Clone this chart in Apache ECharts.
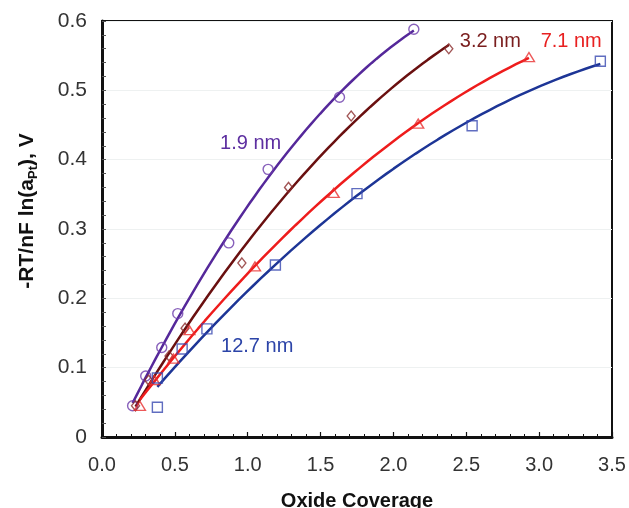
<!DOCTYPE html>
<html>
<head>
<meta charset="utf-8">
<script src="https://cdn.jsdelivr.net/npm/echarts@6/dist/echarts.min.js"></script>
<style>
  html, body { margin: 0; padding: 0; background: #ffffff; }
  #chart { width: 629px; height: 508px; }
</style>
</head>
<body>
<div id="chart"></div>
<script>
// Pt oxide film thickness of each sample
const thicknessLabels = ['1.9 nm', '3.2 nm', '7.1 nm', '12.7 nm'];

// Oxide coverage (x) and -RT/nF ln(a_Pt) in V (y) for each thickness
const coverage19 = [0.21, 0.30, 0.41, 0.52, 0.87, 1.14, 1.63, 2.14];
const potential19 = [0.045, 0.088, 0.129, 0.178, 0.280, 0.386, 0.490, 0.588];

const coverage32 = [0.23, 0.32, 0.46, 0.57, 0.96, 1.28, 1.71, 2.38];
const potential32 = [0.045, 0.082, 0.117, 0.157, 0.251, 0.360, 0.463, 0.560];

const coverage71 = [0.26, 0.36, 0.49, 0.60, 1.05, 1.59, 2.17, 2.93];
const potential71 = [0.045, 0.082, 0.113, 0.154, 0.246, 0.352, 0.452, 0.548];

const coverage127 = [0.38, 0.38, 0.55, 0.72, 1.19, 1.75, 2.54, 3.42];
const potential127 = [0.043, 0.085, 0.127, 0.156, 0.248, 0.351, 0.449, 0.542];

// Axis tick labels
const xTickLabels = ['0.0', '0.5', '1.0', '1.5', '2.0', '2.5', '3.0', '3.5'];
const yTickLabels = ['0', '0.1', '0.2', '0.3', '0.4', '0.5', '0.6'];

const FONT = '"Liberation Sans", Arial, Helvetica, sans-serif';

const styles = [
  { line: '#55289a', mark: '#6a3aaa', text: '#5d2fa0', symbol: 'circle',   size: 10, label: [1.02, 0.424] },
  { line: '#6a1010', mark: '#8a2a2a', text: '#7a1e1e', symbol: 'diamond',  size: [8, 10], label: [2.665, 0.57] },
  { line: '#ee1c1c', mark: '#e83030', text: '#e82020', symbol: 'triangle', size: [11, 9], label: [3.22, 0.571] },
  { line: '#1d3596', mark: '#3848b0', text: '#2c44a8', symbol: 'rect',     size: 10, label: [1.065, 0.13] }
];

const sets = [
  [coverage19, potential19],
  [coverage32, potential32],
  [coverage71, potential71],
  [coverage127, potential127]
];

// Least-squares quadratic trendline y = a + b x + c x^2
function quadFit(xs, ys) {
  const S = [[0, 0, 0], [0, 0, 0], [0, 0, 0]];
  const T = [0, 0, 0];
  xs.forEach((x, i) => {
    const p = [1, x, x * x];
    for (let j = 0; j < 3; j++) {
      T[j] += p[j] * ys[i];
      for (let k = 0; k < 3; k++) S[j][k] += p[j] * p[k];
    }
  });
  // Gaussian elimination
  const M = S.map((row, i) => row.concat([T[i]]));
  for (let c = 0; c < 3; c++) {
    let piv = c;
    for (let r = c + 1; r < 3; r++) if (Math.abs(M[r][c]) > Math.abs(M[piv][c])) piv = r;
    [M[c], M[piv]] = [M[piv], M[c]];
    for (let r = 0; r < 3; r++) {
      if (r === c) continue;
      const f = M[r][c] / M[c][c];
      for (let k = c; k < 4; k++) M[r][k] -= f * M[c][k];
    }
  }
  return [M[0][3] / M[0][0], M[1][3] / M[1][1], M[2][3] / M[2][2]];
}

function trendline(xs, ys) {
  const [a, b, c] = quadFit(xs, ys);
  const x0 = Math.min(...xs), x1 = Math.max(...xs);
  const pts = [];
  const n = 60;
  for (let i = 0; i <= n; i++) {
    const x = x0 + (x1 - x0) * i / n;
    pts.push([x, a + b * x + c * x * x]);
  }
  return pts;
}

const series = [];
sets.forEach(([xs, ys], i) => {
  const st = styles[i];
  series.push({
    name: thicknessLabels[i] + ' fit',
    type: 'line',
    data: trendline(xs, ys),
    showSymbol: false,
    smooth: false,
    silent: true,
    z: 2,
    lineStyle: { color: st.line, width: 2.5 },
    markPoint: {
      symbol: 'circle',
      symbolSize: 0,
      silent: true,
      data: [{
        coord: st.label,
        label: {
          show: true,
          position: 'inside',
          formatter: thicknessLabels[i],
          color: st.text,
          fontSize: 20,
          fontFamily: FONT
        }
      }]
    }
  });
  series.push({
    name: thicknessLabels[i],
    type: 'scatter',
    data: xs.map((x, k) => [x, ys[k]]),
    symbol: st.symbol,
    symbolSize: st.size,
    z: 3,
    itemStyle: { color: 'rgba(0,0,0,0)', borderColor: st.mark, borderWidth: 1.4 }
  });
});

const chart = echarts.init(document.getElementById('chart'), null, { renderer: 'canvas' });

chart.setOption({
  animation: false,
  backgroundColor: '#ffffff',
  grid: {
    left: 102, right: 17, top: 21, bottom: 71,
    outerBoundsMode: 'none',
    containLabel: false,
    show: true, borderColor: '#111', borderWidth: 2, backgroundColor: 'transparent'
  },
  xAxis: {
    type: 'value',
    min: 0, max: 3.5, interval: 0.5,
    name: 'Oxide Coverage',
    nameLocation: 'middle',
    nameGap: 54,
    nameTextStyle: { fontSize: 20, fontWeight: 'bold', color: '#111', fontFamily: FONT },
    axisLine: { show: true, lineStyle: { color: '#111', width: 3 } },
    axisTick: { show: true, inside: true, length: 5, lineStyle: { color: '#111', width: 1.2 } },
    minorTick: { show: true, splitNumber: 5, length: 3, lineStyle: { color: '#111', width: 1 } },
    axisLabel: {
      margin: 18, fontSize: 20, color: '#333', fontFamily: FONT,
      formatter: v => xTickLabels[Math.round(v / 0.5)]
    },
    splitLine: { show: false }
  },
  yAxis: {
    type: 'value',
    min: 0, max: 0.6, interval: 0.1,
    axisLine: { show: true, lineStyle: { color: '#111', width: 3 } },
    axisTick: { show: true, inside: true, length: 4, lineStyle: { color: '#555', width: 1 } },
    minorTick: { show: true, splitNumber: 5, length: 4, lineStyle: { color: '#555', width: 1 } },
    axisLabel: {
      margin: 15, fontSize: 21, color: '#333', fontFamily: FONT,
      formatter: v => yTickLabels[Math.round(v / 0.1)]
    },
    splitLine: { show: true, lineStyle: { color: '#eef1f1', width: 1 } }
  },
  graphic: [{
    type: 'text',
    x: 27, y: 211,
    rotation: Math.PI / 2,
    style: {
      text: '{b|-RT/nF ln(a}{s|Pt}{b|), V}',
      align: 'center',
      verticalAlign: 'middle',
      rich: {
        b: { fontSize: 21, fontWeight: 'bold', fontFamily: FONT, fill: '#111', lineHeight: 26 },
        s: { fontSize: 13, fontWeight: 'bold', fontFamily: FONT, fill: '#111', lineHeight: 13, verticalAlign: 'bottom' }
      }
    }
  }],
  series: series
});
</script>
</body>
</html>
